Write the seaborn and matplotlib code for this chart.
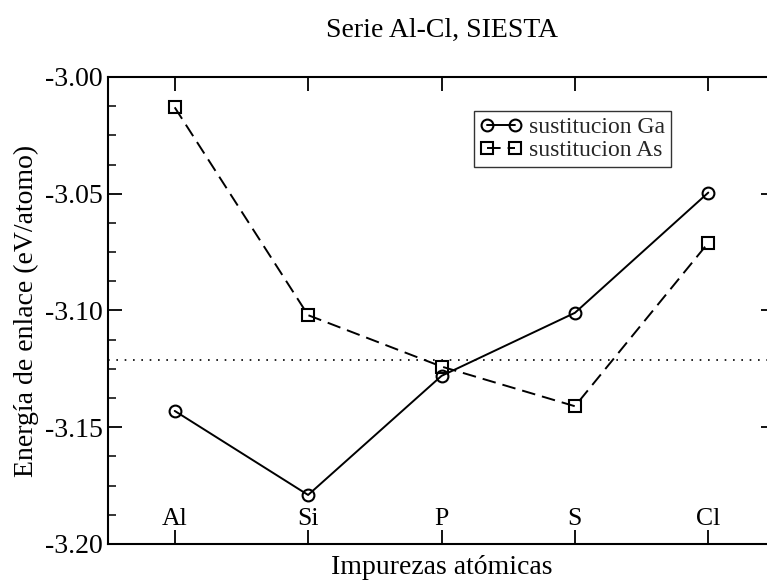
import matplotlib
matplotlib.use("Agg")
import matplotlib.pyplot as plt
from matplotlib.ticker import MultipleLocator, FormatStrFormatter
import seaborn as sns
import pandas as pd

# Impurity species along the series and binding energies (eV/atom)
impurezas = ["Al", "Si", "P", "S", "Cl"]
sust_ga = [-3.143, -3.179, -3.128, -3.101, -3.0495]
sust_as = [-3.013, -3.102, -3.124, -3.141, -3.071]
referencia = -3.121

sns.set_theme(style="white")
plt.rcParams["font.family"] = ["Liberation Serif", "DejaVu Serif"]

pos = list(range(len(impurezas)))
df_ga = pd.DataFrame({"x": pos, "E": sust_ga})
df_as = pd.DataFrame({"x": pos, "E": sust_as})

fig = plt.figure(figsize=(7.67, 5.80), dpi=100)
ax = fig.add_axes([108 / 767, 1 - 544 / 580, 667 / 767, (544 - 77) / 580])

sns.lineplot(data=df_ga, x="x", y="E", ax=ax, color="black", linewidth=1.4,
             marker="o", markersize=8.5, markerfacecolor="none",
             markeredgecolor="black", markeredgewidth=1.5,
             label="sustitucion Ga")
sns.lineplot(data=df_as, x="x", y="E", ax=ax, color="black", linewidth=1.4,
             linestyle=(0, (7, 3.6)), marker="s", markersize=8,
             markerfacecolor="none", markeredgecolor="black",
             markeredgewidth=1.5, label="sustitucion As")
ax.axhline(referencia, color="black", linewidth=1.2, linestyle=(0, (1, 4)))

ax.set_xlim(-0.5, 4.5)
ax.set_ylim(-3.20, -3.00)
ax.set_xticks(pos)
ax.set_xticklabels(impurezas)
ax.yaxis.set_major_locator(MultipleLocator(0.05))
ax.yaxis.set_minor_locator(MultipleLocator(0.0125))
ax.yaxis.set_major_formatter(FormatStrFormatter("%.2f"))

for s in ax.spines.values():
    s.set_color("black")
    s.set_linewidth(1.5)

ax.tick_params(axis="y", which="major", direction="in", length=10, width=1.3,
               left=True, right=True, labelsize=20, pad=4, colors="black")
ax.tick_params(axis="y", which="minor", direction="in", length=5.5, width=1.3,
               left=True, right=True)
ax.tick_params(axis="x", which="major", direction="in", length=10, width=1.3,
               bottom=True, top=True, labelsize=18.5, pad=-26, colors="black")

ax.set_xlabel("Impurezas atómicas", fontsize=20, color="black", labelpad=8)
ax.set_ylabel("Energía de enlace (eV/atomo)", fontsize=20, color="black",
              labelpad=4)
fig.text(442 / 767, 1 - 37 / 580, "Serie Al-Cl, SIESTA", fontsize=20,
         ha="center", va="baseline", color="black")

leg = ax.legend(loc="upper left",
                bbox_to_anchor=((474 - 108) / 667, 1 - (111 - 77) / 467),
                fontsize=17, frameon=True, fancybox=False, edgecolor="black",
                numpoints=2, handlelength=1.8, handletextpad=0.3,
                borderpad=0.25, labelspacing=0.05, borderaxespad=0)
leg.get_frame().set_linewidth(1.0)

fig.savefig("out.png", dpi=100)
